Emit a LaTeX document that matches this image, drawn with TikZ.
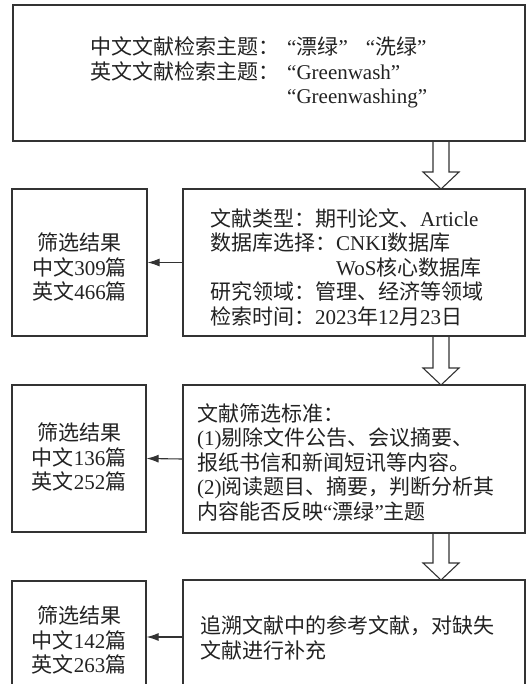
\documentclass[tikz,border=0pt]{standalone}
\usepackage{fontspec}
\setmainfont{Liberation Serif}
\newfontfamily\zhfont{Noto Sans CJK SC}
\newcommand\z[1]{{\zhfont #1}}
\usetikzlibrary{arrows.meta}
\definecolor{lc}{HTML}{333333}
\definecolor{tc}{HTML}{222222}
\tikzset{
  boxline/.style={draw=lc, line width=1.1pt},
  frame/.style={boxline, rectangle, inner sep=0pt},
  txt/.style={inner sep=0pt, text=tc, font=\fontsize{21}{24.5}\selectfont},
  arr/.style={draw=lc, line width=1.1pt, -{Latex[length=12pt,width=8pt]}},
}
\newcommand\harrow[3]{\draw[boxline, line join=miter] (#1-8,#2) -- (#1-8,#3-17) -- (#1-18,#3-17) -- (#1,#3) -- (#1+18,#3-17) -- (#1+8,#3-17) -- (#1+8,#2);}
\begin{document}
\begin{tikzpicture}[x=1pt,y=-1pt]
\useasboundingbox (0,0) rectangle (527,684);
% boxes
\node[frame, minimum width=512pt, minimum height=136pt] (top) at (269,73) {};
\node[frame, minimum width=342pt, minimum height=147pt] (box2) at (354,262.5) {};
\node[frame, minimum width=135pt, minimum height=147pt] (left2) at (79.5,262.5) {};
\node[frame, minimum width=342pt, minimum height=148pt] (box3) at (354,459) {};
\node[frame, minimum width=134pt, minimum height=147pt] (left3) at (79,458.5) {};
\node[frame, minimum width=342pt, minimum height=148pt] (box4) at (354,654) {};
\node[frame, minimum width=134pt, minimum height=147pt] (left4) at (79,654.5) {};
% texts
\node[txt, anchor=west, align=left] (toptext) at (90,72.5) {%
\z{中文文献检索主题：}\hspace{8pt}“\z{漂绿}”\hspace{18pt}“\z{洗绿}”\\
\z{英文文献检索主题：}\hspace{8pt}“Greenwash”\\
\hphantom{\z{英文文献检索主题：}\hspace{8pt}}“Greenwashing”};
\node[txt, anchor=west, align=left] (text2) at (210,267) {%
\z{文献类型：期刊论文、}Article\\
\z{数据库选择：}CNKI\z{数据库}\\
\hphantom{\z{数据库选择：}}WoS\z{核心数据库}\\
\z{研究领域：管理、经济等领域}\\
\z{检索时间：}2023\z{年}12\z{月}23\z{日}};
\node[txt, align=center] (ltext2) at (79.5,267) {%
\z{筛选结果}\\ \z{中文}309\z{篇}\\ \z{英文}466\z{篇}};
\node[txt, anchor=west, align=left] (text3) at (197,462) {%
\z{文献筛选标准：}\\
(1)\z{剔除文件公告、会议摘要、}\\
\z{报纸书信和新闻短讯等内容。}\\
(2)\z{阅读题目、摘要，判断分析其}\\
\z{内容能否反映}“\z{漂绿}”\z{主题}};
\node[txt, align=center] (ltext3) at (79,457) {%
\z{筛选结果}\\ \z{中文}136\z{篇}\\ \z{英文}252\z{篇}};
\node[txt, anchor=west, align=left] (text4) at (200,638) {%
\z{追溯文献中的参考文献，对缺失}\\
\z{文献进行补充}};
\node[txt, align=center] (ltext4) at (79,640) {%
\z{筛选结果}\\ \z{中文}142\z{篇}\\ \z{英文}263\z{篇}};
% hollow arrows
\harrow{441}{141}{189}
\harrow{441}{336}{385}
\harrow{441}{533}{580}
% result arrows
\coordinate (a4) at (0,637);
\draw[arr] (box2.west) -- (left2.east);
\draw[arr] (box3.west) -- (left3.east);
\draw[arr] (a4 -| box4.west) -- (a4 -| left4.east);
\end{tikzpicture}
\end{document}
